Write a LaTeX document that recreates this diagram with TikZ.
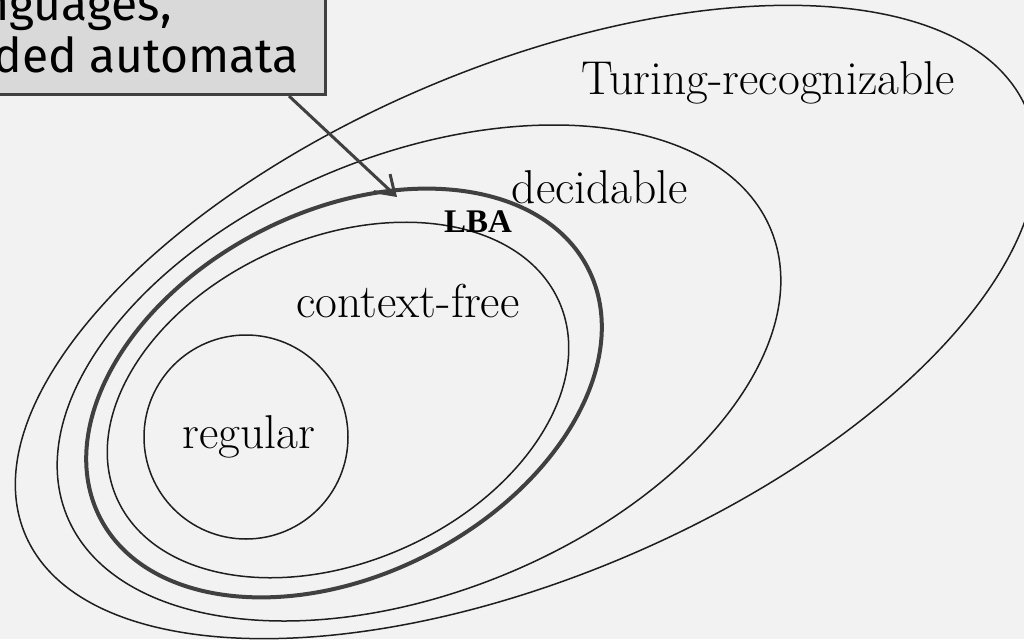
\documentclass[tikz,border=0pt]{standalone}
\usepackage{fontspec}
\newfontfamily\calloutfont{Fira Sans}
\newfontfamily\lbafont{Liberation Serif}
\usetikzlibrary{arrows.meta}

\definecolor{paper}{HTML}{F2F2F2}
\definecolor{boxfill}{HTML}{D9D9D9}
\definecolor{darkline}{HTML}{404040}
\definecolor{setline}{HTML}{1E1E1E}

\begin{document}
\begin{tikzpicture}[x=1pt, y=-1pt,
  setborder/.style={line width=1.5pt, draw=setline},
  lbaborder/.style={line width=4pt, draw=darkline},
  setlabel/.style={font=\fontsize{47.5}{52}\selectfont, anchor=base, inner sep=0pt},
  lbalabel/.style={font=\lbafont\bfseries\fontsize{33}{36}\selectfont, anchor=base, inner sep=0pt},
  calloutbox/.style={draw=darkline, fill=boxfill, line width=3pt, inner sep=0pt},
  callouttext/.style={font=\calloutfont\fontsize{48}{52}\selectfont, inner sep=0pt, anchor=base east},
  pointer/.style={draw=darkline, line width=3pt, -{Straight Barb[length=18pt, width=24pt]}}
]
% page
\fill[paper] (0,0) rectangle (1024,639);
\useasboundingbox (0,0) rectangle (1024,639);

% centres of the nested classes
\coordinate (tcentre) at (526,322);
\coordinate (dcentre) at (419,373);
\coordinate (lcentre) at (344,393);
\coordinate (ccentre) at (338,400);

% Turing-recognizable
\draw[setborder, rotate around={23:(tcentre)}] (tcentre) ellipse[x radius=544, y radius=255];
% decidable
\draw[setborder, rotate around={22:(dcentre)}] (dcentre) ellipse[x radius=380, y radius=219];
% LBA
\draw[lbaborder, rotate around={27:(lcentre)}] (lcentre) ellipse[x radius=274, y radius=182];
% context-free
\draw[setborder, rotate around={24:(ccentre)}] (ccentre) ellipse[x radius=242, y radius=162];
% regular
\draw[setborder] (246,437) circle[radius=102];

% labels
\node[setlabel] (turing) at (768,95) {Turing-recognizable};
\node[setlabel] (decidable) at (600,203) {decidable};
\node[lbalabel] (lba) at (478,232) {LBA};
\node[setlabel] (cf) at (408,317) {context-free};
\node[setlabel] (regular) at (249,448) {regular};

% callout and pointer
\node[calloutbox, anchor=south east, minimum width=420pt, minimum height=180pt] (callout) at (327,96) {};
\node[callouttext] (calloutfirst) at (172,21) {languages,};
\node[callouttext] (calloutsecond) at (299,73) {bounded automata};
\coordinate (lbatop) at (397,197);
\draw[pointer] ([xshift=-38pt]callout.south east) -- (lbatop);
\end{tikzpicture}
\end{document}
